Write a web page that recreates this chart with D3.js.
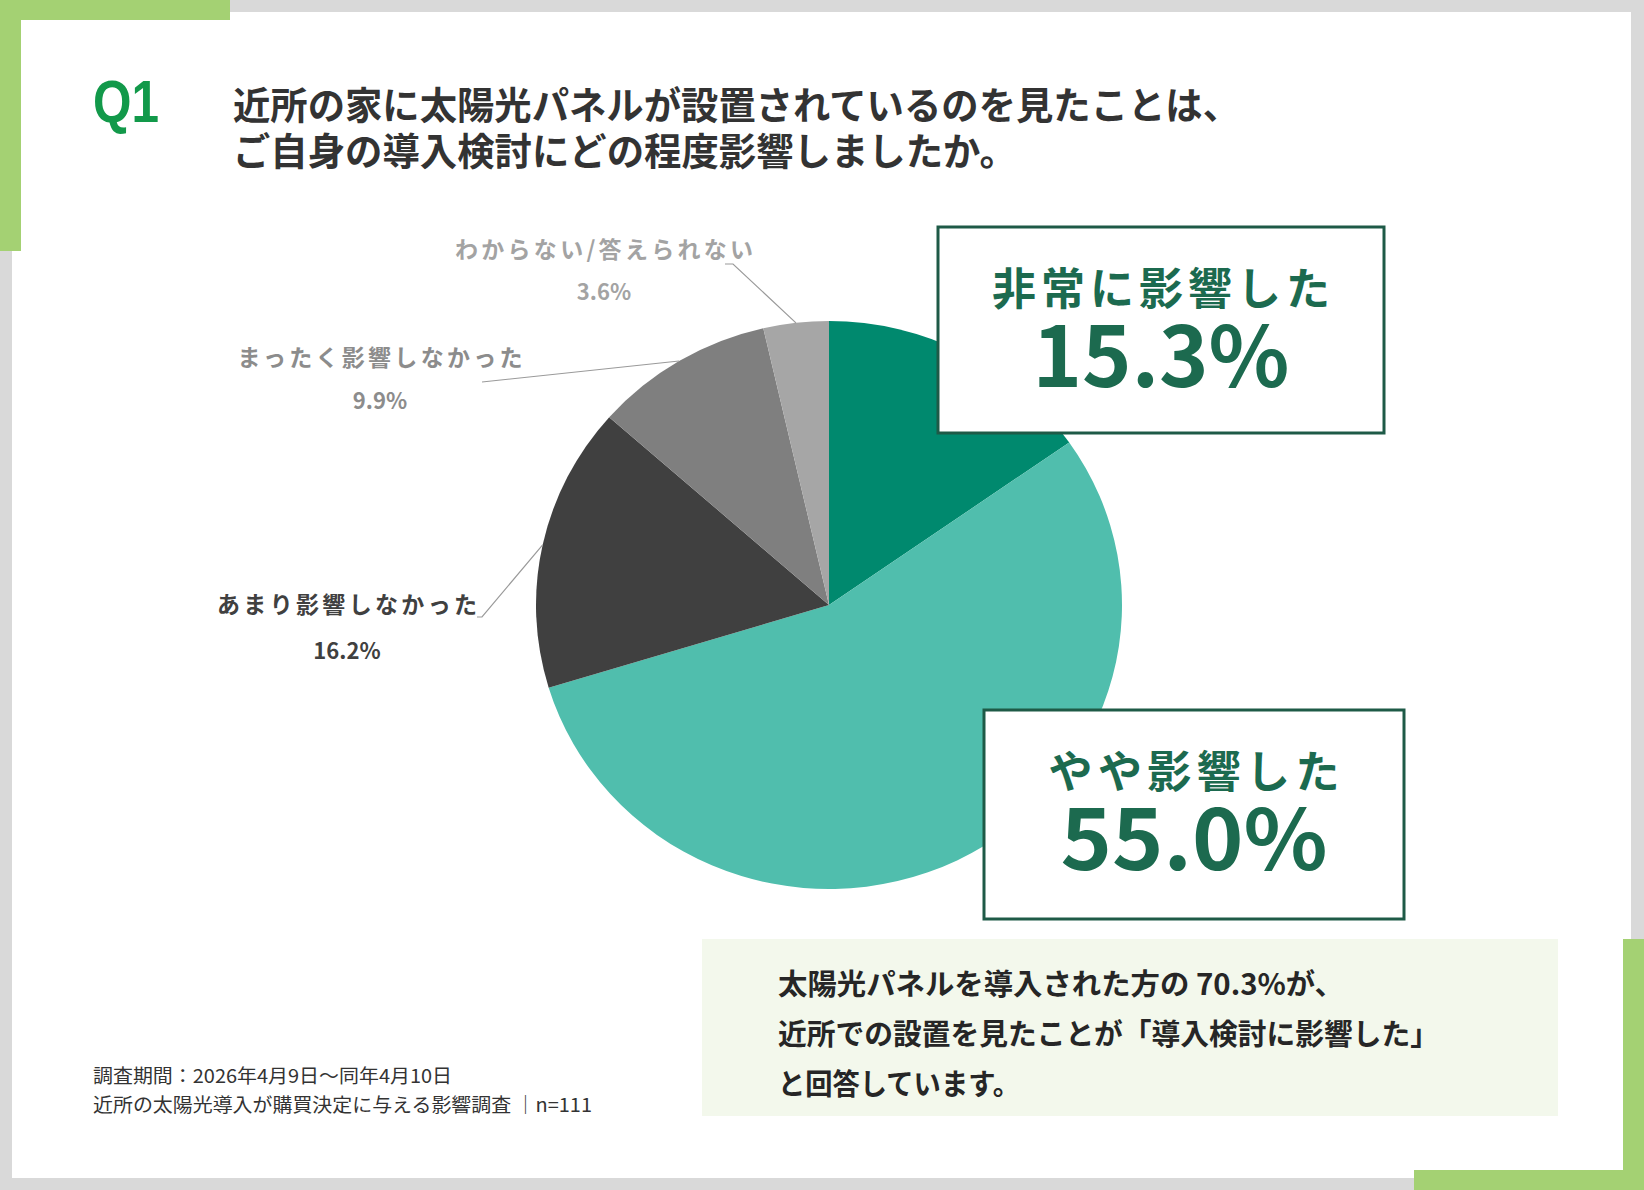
<html lang="ja">
<head>
<meta charset="utf-8">
<title>Q1 近所の太陽光パネルの影響</title>
<script src="https://d3js.org/d3.v7.min.js"></script>
<style>
  body { margin: 0; background: #fff; }
  text { font-family: "Noto Sans CJK JP", "Noto Sans", sans-serif; }
</style>
</head>
<body>
<div id="chart"></div>
<script>

// answers, clockwise from 12 o'clock
var categories = ["非常に影響した", "やや影響した", "あまり影響しなかった", "まったく影響しなかった", "わからない/答えられない"];
var values = [15.3, 55.0, 16.2, 9.9, 3.6];
var valueLabels = ["15.3%", "55.0%", "16.2%", "9.9%", "3.6%"];

var colors = ["#00896e", "#50bead", "#404040", "#7f7f7f", "#a6a6a6"];
var labelColors = ["#1c6a4f", "#1c6a4f", "#404040", "#8c8c8c", "#a3a3a3"];

var width = 1644, height = 1190;

var svg = d3.select("#chart")
  .append("svg")
    .attr("width", width)
    .attr("height", height);

// frame
svg.append("rect").attr("x", 230).attr("y", 0).attr("width", width - 230).attr("height", 12).attr("fill", "#d9d9d9");
svg.append("rect").attr("x", 0).attr("y", 251).attr("width", 12).attr("height", height - 251).attr("fill", "#d9d9d9");
svg.append("rect").attr("x", width - 13).attr("y", 0).attr("width", 13).attr("height", 939).attr("fill", "#d9d9d9");
svg.append("rect").attr("x", 0).attr("y", height - 12).attr("width", 1414).attr("height", 12).attr("fill", "#d9d9d9");
svg.append("rect").attr("x", 0).attr("y", 0).attr("width", 230).attr("height", 20).attr("fill", "#a4d173");
svg.append("rect").attr("x", 0).attr("y", 0).attr("width", 21).attr("height", 251).attr("fill", "#a4d173");
svg.append("rect").attr("x", width - 21).attr("y", 939).attr("width", 21).attr("height", height - 939).attr("fill", "#a4d173");
svg.append("rect").attr("x", 1414).attr("y", height - 20).attr("width", width - 1414).attr("height", 20).attr("fill", "#a4d173");

// heading
svg.append("text")
  .attr("x", 93).attr("y", 122)
  .attr("textLength", 66).attr("lengthAdjust", "spacingAndGlyphs")
  .style("font-family", "'Liberation Sans', Arial, sans-serif")
  .style("font-size", "60px").style("font-weight", "bold")
  .attr("fill", "#12994a")
  .text("Q1");

var title = ["近所の家に太陽光パネルが設置されているのを見たことは、", "ご自身の導入検討にどの程度影響しましたか。"];
var titleW = [1007, 784];
var titleText = svg.append("text")
  .attr("y", 119)
  .style("font-size", "38px").style("font-weight", "bold")
  .attr("fill", "#333");
title.forEach(function(t, i) {
  titleText.append("tspan")
    .attr("x", 233).attr("dy", i ? 46 : 0)
    .attr("textLength", titleW[i]).attr("lengthAdjust", "spacingAndGlyphs")
    .text(t);
});

// pie (slightly wider than tall, like the original)
var cx = 829, cy = 605, rx = 293, ry = 284;

var pie = d3.pie().sort(null).value(function(d) { return d; });
var arcs = pie(values);
var arc = d3.arc().innerRadius(0).outerRadius(ry);

svg.append("g")
    .attr("transform", "translate(" + cx + "," + cy + ") scale(" + (rx / ry) + ",1)")
  .selectAll("path")
  .data(arcs)
  .enter()
  .append("path")
    .attr("d", arc)
    .attr("fill", function(d, i) { return colors[i]; });

function edge(d) {
  var a = (d.startAngle + d.endAngle) / 2;
  return [cx + rx * Math.sin(a), cy - ry * Math.cos(a)];
}

// outside labels for the three small slices
var outside = [
  { i: 4, x: 604, y: 250, w: 298, py: 292, bend: [[733, 264], [725, 264]] },
  { i: 3, x: 380, y: 358, w: 285, py: 401, bend: [[482, 382]] },
  { i: 2, x: 347, y: 605, w: 260, py: 651, bend: [[482, 617], [477, 617]] }
];

outside.forEach(function(o) {
  var pts = [edge(arcs[o.i])].concat(o.bend);
  svg.append("path")
    .attr("d", d3.line()(pts))
    .attr("fill", "none")
    .attr("stroke", "#9a9a9a")
    .attr("stroke-width", 1.2);

  svg.append("text")
    .attr("x", o.x).attr("y", o.y)
    .attr("dy", "0.36em")
    .attr("text-anchor", "middle")
    .attr("textLength", o.w).attr("lengthAdjust", "spacing")
    .style("font-size", "23px").style("font-weight", "bold")
    .attr("fill", labelColors[o.i])
    .text(categories[o.i]);

  svg.append("text")
    .attr("x", o.x).attr("y", o.py)
    .attr("dy", "0.36em")
    .attr("text-anchor", "middle")
    .style("font-size", "22px").style("font-weight", "bold")
    .attr("fill", labelColors[o.i])
    .text(valueLabels[o.i]);
});

// callout boxes for the two big slices
var boxes = [
  { i: 0, x: 938, y: 227, w: 446, h: 206, lw: 338, nw: 257 },
  { i: 1, x: 984, y: 710, w: 420, h: 209, lw: 291, nw: 267 }
];

boxes.forEach(function(b) {
  var mid = b.x + b.w / 2;
  svg.append("rect")
    .attr("x", b.x).attr("y", b.y)
    .attr("width", b.w).attr("height", b.h)
    .attr("fill", "#fff")
    .attr("stroke", "#1e5a47")
    .attr("stroke-width", 3);

  var t = svg.append("text")
    .attr("y", b.y + 78)
    .attr("text-anchor", "middle")
    .style("font-weight", "bold")
    .attr("fill", labelColors[b.i]);

  t.append("tspan")
    .attr("x", mid)
    .attr("textLength", b.lw).attr("lengthAdjust", "spacing")
    .style("font-size", "44px")
    .text(categories[b.i]);

  t.append("tspan")
    .attr("x", mid).attr("dy", 82)
    .attr("textLength", b.nw).attr("lengthAdjust", "spacingAndGlyphs")
    .style("font-size", "84px")
    .text(valueLabels[b.i]);
});

// summary panel
svg.append("rect")
  .attr("x", 702).attr("y", 939)
  .attr("width", 856).attr("height", 177)
  .attr("fill", "#f3f8ec");

var summary = ["太陽光パネルを導入された方の 70.3%が、", "近所での設置を見たことが「導入検討に影響した」", "と回答しています。"];
var summaryW = [566, 661, 242];
summary.forEach(function(t, i) {
  svg.append("text")
    .attr("x", 778).attr("y", 995 + i * 50)
    .attr("textLength", summaryW[i]).attr("lengthAdjust", "spacingAndGlyphs")
    .style("font-size", "29px").style("font-weight", "bold")
    .attr("fill", "#262626")
    .text(t);
});

// footnote
var notes = ["調査期間：2026年4月9日～同年4月10日", "近所の太陽光導入が購買決定に与える影響調査 │n=111"];
var notesW = [359, 499];
notes.forEach(function(t, i) {
  svg.append("text")
    .attr("x", 93).attr("y", 1083 + i * 29)
    .attr("textLength", notesW[i]).attr("lengthAdjust", "spacingAndGlyphs")
    .style("font-size", "19px")
    .attr("fill", "#333")
    .text(t);
});

</script>
</body>
</html>
